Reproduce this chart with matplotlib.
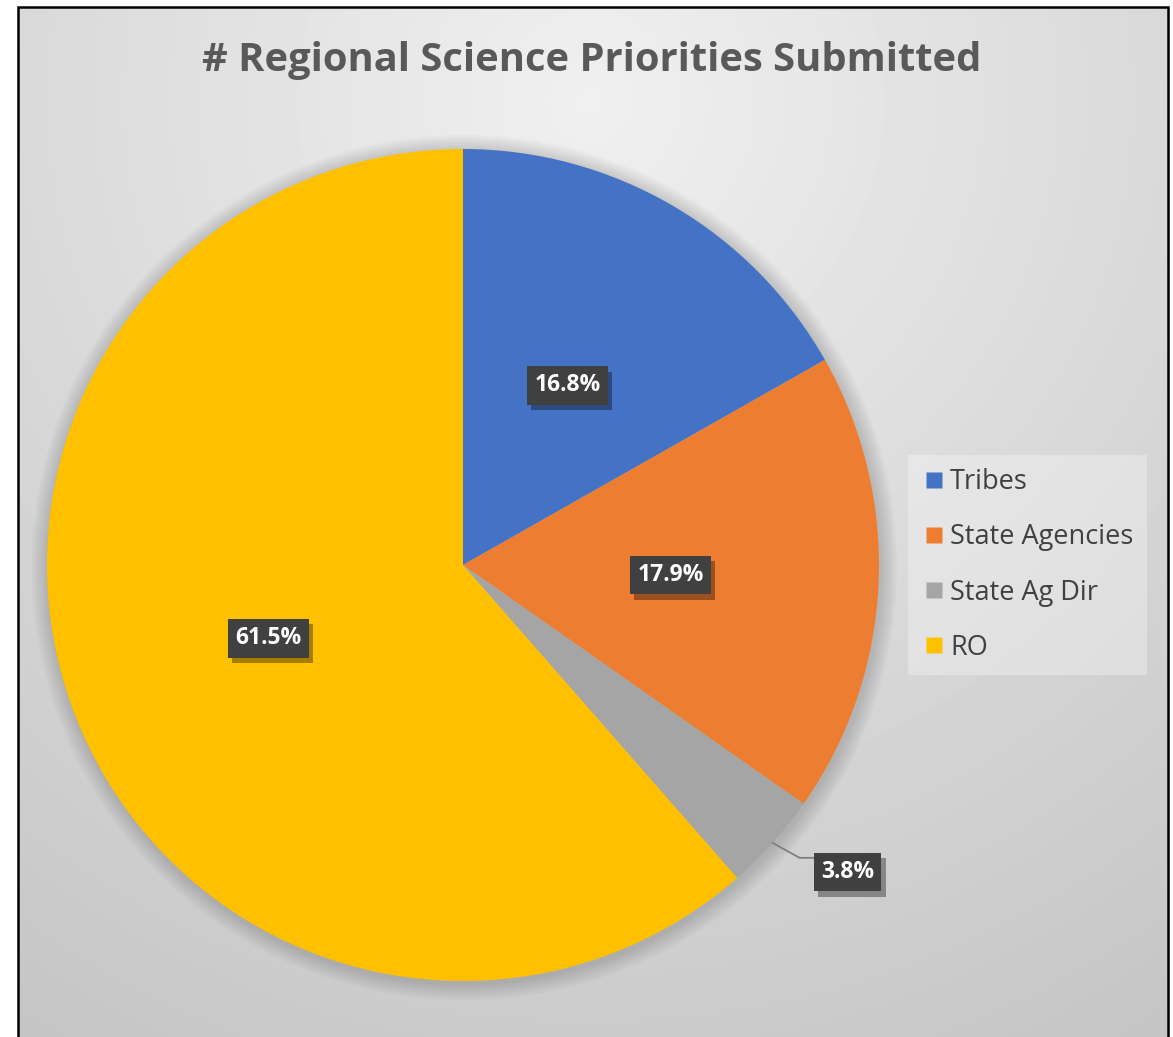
import numpy as np
import matplotlib.pyplot as plt
import matplotlib.patheffects as pe
from matplotlib.lines import Line2D
from matplotlib.patches import Rectangle, Circle

plt.rcParams['font.family'] = ['Open Sans', 'DejaVu Sans']

categories = ["Tribes", "State Agencies", "State Ag Dir", "RO"]
counts = [44, 47, 10, 161]
colors = ["#4472C4", "#ED7D31", "#A5A5A5", "#FFC000"]
title = "# Regional Science Priorities Submitted"

W, H = 1173, 1037
fig = plt.figure(figsize=(W / 100, H / 100), dpi=100)
fig.patch.set_facecolor("white")

# radial gray background inside the chart frame
bg = fig.add_axes([18 / W, 0, (1168 - 18) / W, (H - 7) / H])
yy, xx = np.mgrid[7:H, 18:1168]
dist = np.hypot(xx - 590, yy - 100)
shade = np.clip(0.94 - 0.000155 * dist, 0, 1)
bg.imshow(shade, cmap="gray", vmin=0, vmax=1, aspect="auto",
          extent=[0, 1, 0, 1], interpolation="bilinear")
bg.set_axis_off()

# pie axes: centre (463, 565) px, radius 416 px
cx, cy, r = 463, 565, 416
ax = fig.add_axes([(cx - r) / W, (H - cy - r) / H, 2 * r / W, 2 * r / H])

wedges, _ = ax.pie(counts, colors=colors, startangle=90, counterclock=False,
                   radius=1.0, wedgeprops=dict(linewidth=0))
ax.set_xlim(-1, 1)
ax.set_ylim(-1, 1)
ax.set_axis_off()
for w in wedges:
    w.set_zorder(2)

# soft shadow around the pie
for i in range(8):
    ax.add_patch(Circle((0.003, -0.006), 1.0 + 0.005 * (i + 1),
                        color="black", alpha=0.02, lw=0, zorder=0,
                        clip_on=False))

total = sum(counts)
box = dict(boxstyle="square,pad=0.32", fc="#404040", ec="none")
for w, c in zip(wedges, counts):
    mid = np.deg2rad((w.theta1 + w.theta2) / 2)
    pct = f"{100 * c / total:.1f}%"
    if c / total < 0.05:
        # small slice: label outside with a leader line
        ex, ey = np.cos(mid), np.sin(mid)
        kx, ky = ex + 0.065, ey - 0.036
        ax.plot([ex, kx, kx + 0.035], [ey, ky, ky], color="#7f7f7f", lw=1.3,
                zorder=3, clip_on=False)
        x, y = ex + 0.18, ey - 0.07
    else:
        x, y = 0.5 * np.cos(mid), 0.5 * np.sin(mid)
    t = ax.text(x, y, pct, ha="center", va="center", fontsize=16.5,
                fontweight="bold", color="white", bbox=box, zorder=5)
    t.get_bbox_patch().set_path_effects(
        [pe.SimplePatchShadow(offset=(3, -4), shadow_rgbFace="black", alpha=0.35),
         pe.Normal()])

fig.text(592 / W, 1 - 60 / H, title, ha="center", va="center",
         fontsize=28.7, fontweight="bold", color="#595959")

handles = [Line2D([], [], marker="s", linestyle="none", markersize=12,
                  markerfacecolor=c, markeredgecolor="none") for c in colors]
leg = fig.legend(handles, categories, loc="center left",
                 bbox_to_anchor=(908 / W, 1 - 565 / H), frameon=True,
                 fancybox=False, fontsize=19.5, labelspacing=1.0,
                 handletextpad=0.15, borderpad=0.5, handlelength=0.9,
                 borderaxespad=0)
leg.get_frame().set_facecolor("white")
leg.get_frame().set_alpha(0.3)
leg.get_frame().set_edgecolor("none")
for t in leg.get_texts():
    t.set_color("#404040")

fig.add_artist(Rectangle((18 / W, -0.01), (1168 - 18) / W, 1.01 - 7 / H,
                         transform=fig.transFigure, fill=False,
                         edgecolor="black", lw=1.8))

fig.savefig("out.png", dpi=100)
